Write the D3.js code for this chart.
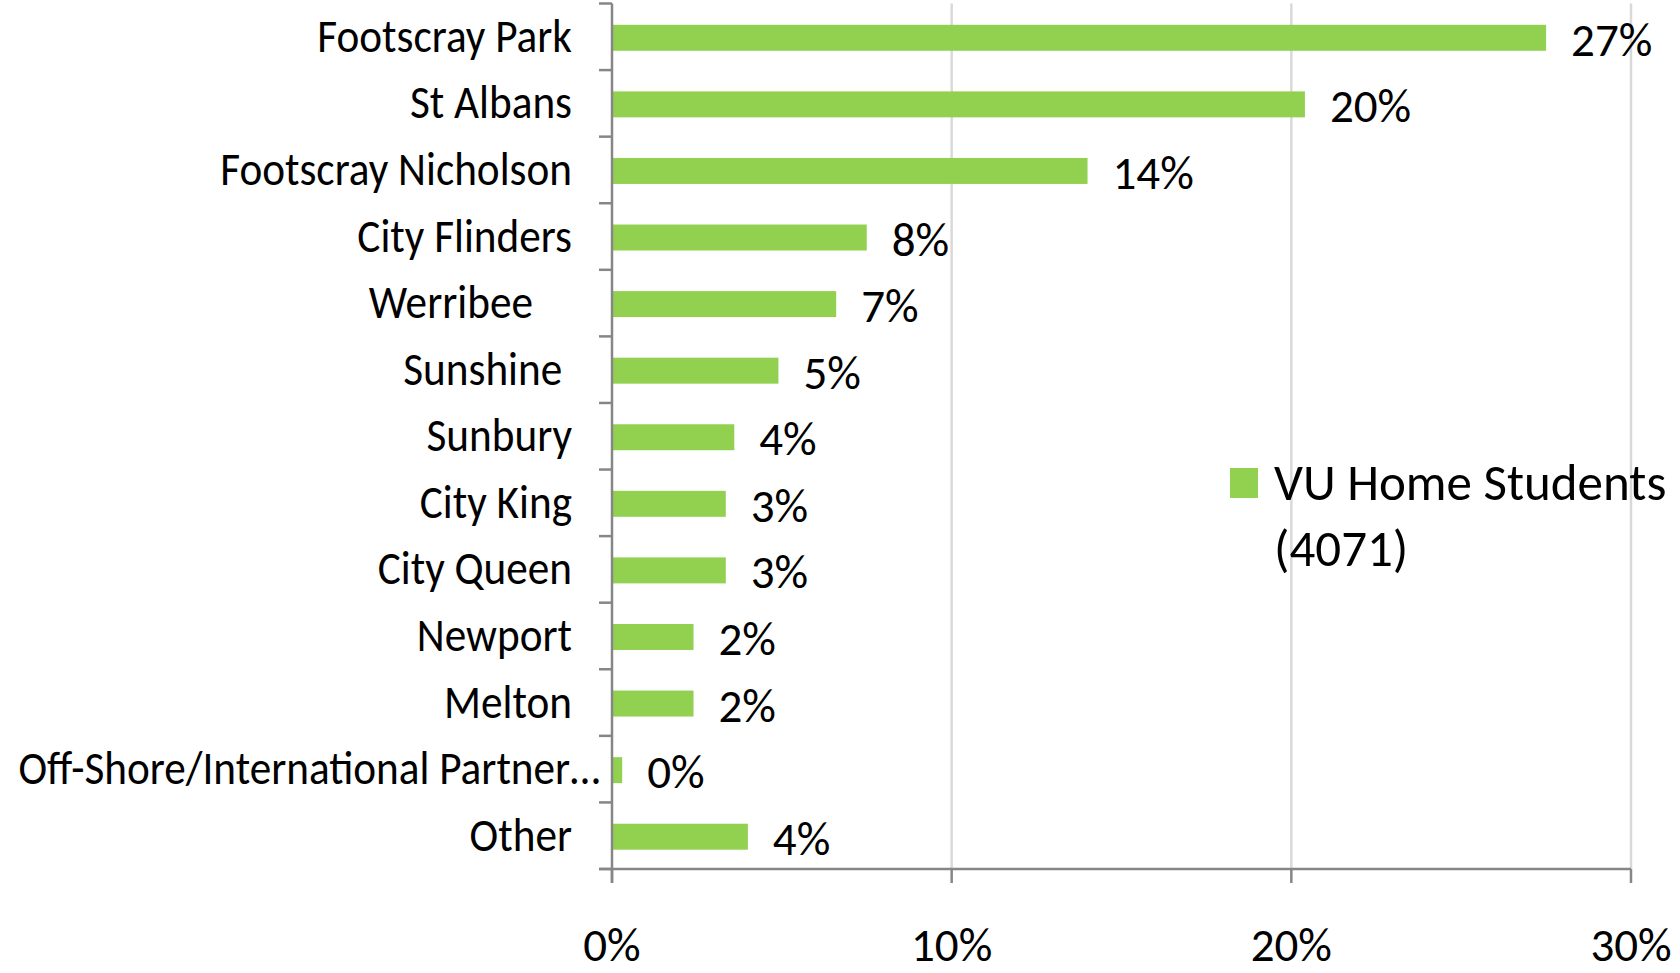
<!DOCTYPE html>
<html>
<head>
<meta charset="utf-8">
<script src="https://cdn.jsdelivr.net/npm/d3@7"></script>
<style>
  body { margin: 0; background: #fff; }
  text { font-family: Carlito, Calibri, Lato, "Open Sans", sans-serif; fill: #000; white-space: pre; }
</style>
</head>
<body>
<script>
var categories = ["Footscray Park","St Albans","Footscray Nicholson","City Flinders","Werribee    ","Sunshine ",
                  "Sunbury","City King","City Queen","Newport","Melton","Off-Shore/International Partner\u2026","Other"];
var values = [27.5, 20.4, 14.0, 7.5, 6.6, 4.9, 3.6, 3.35, 3.35, 2.4, 2.4, 0.3, 4.0];
var valueLabels = ["27%","20%","14%","8%","7%","5%","4%","3%","3%","2%","2%","0%","4%"];
var xTicks = [0, 10, 20, 30];
var seriesName = ["VU Home Students", "(4071)"];

var W = 1680, H = 973;
var green = '#92D050', axisCol = '#868686', gridCol = '#D9D9D9';
var squeeze = 0.92;   // narrow the category names a little, like Calibri

var svg = d3.select('body').append('svg').attr('width', W).attr('height', H);

var x = d3.scaleLinear().domain([0, 30]).range([612, 1631]);
var y = d3.scaleBand()
          .domain(categories)
          .range([3.5, 869])
          .paddingInner(0.61)
          .paddingOuter(0.305);
var step = y.step();
var top0 = y.range()[0], bottom0 = y.range()[1];

// gridlines
svg.selectAll('line.grid')
  .data(xTicks.slice(1))
  .enter().append('line')
  .attr('class', 'grid')
  .attr('x1', function(d){return x(d);})
  .attr('x2', function(d){return x(d);})
  .attr('y1', top0)
  .attr('y2', bottom0)
  .attr('stroke', gridCol)
  .attr('stroke-width', 2.5);

// bars
svg.selectAll('rect.bar')
  .data(values)
  .enter().append('rect')
  .attr('class', 'bar')
  .attr('x', x(0))
  .attr('y', function(d,i){return y(categories[i]) + 1;})
  .attr('width', function(d){return x(d) - x(0);})
  .attr('height', y.bandwidth())
  .attr('fill', green);

// value labels
svg.selectAll('text.val')
  .data(values)
  .enter().append('text')
  .attr('class', 'val')
  .attr('x', function(d){return x(d) + 25;})
  .attr('y', function(d,i){return y(categories[i]) + y.bandwidth()/2 + 19;})
  .attr('font-size', 47)
  .text(function(d,i){return valueLabels[i];});

// category axis
svg.append('line')
  .attr('x1', x(0)).attr('x2', x(0))
  .attr('y1', top0).attr('y2', bottom0 + 14)
  .attr('stroke', axisCol).attr('stroke-width', 2.5);
svg.selectAll('line.ytick')
  .data(d3.range(categories.length + 1))
  .enter().append('line')
  .attr('class', 'ytick')
  .attr('x1', x(0) - 13).attr('x2', x(0))
  .attr('y1', function(i){return top0 + i*step;})
  .attr('y2', function(i){return top0 + i*step;})
  .attr('stroke', axisCol).attr('stroke-width', 2.5);
svg.selectAll('text.cat')
  .data(categories)
  .enter().append('text')
  .attr('class', 'cat')
  .attr('transform', function(d,i){
    var tx = i === 11 ? x(0) - 12 : x(0) - 40;
    var ty = y(d) + y.bandwidth()/2 + 15;
    return 'translate(' + tx + ',' + ty + ') scale(' + squeeze + ',1)';
  })
  .attr('text-anchor', 'end')
  .attr('font-size', 47)
  .text(function(d){return d;});

// value axis
svg.append('line')
  .attr('x1', x(0) - 13).attr('x2', x(30))
  .attr('y1', bottom0).attr('y2', bottom0)
  .attr('stroke', axisCol).attr('stroke-width', 2.5);
svg.selectAll('line.xtick')
  .data(xTicks)
  .enter().append('line')
  .attr('class', 'xtick')
  .attr('x1', function(d){return x(d);})
  .attr('x2', function(d){return x(d);})
  .attr('y1', bottom0).attr('y2', bottom0 + 14)
  .attr('stroke', axisCol).attr('stroke-width', 2.5);
svg.selectAll('text.xlab')
  .data(xTicks)
  .enter().append('text')
  .attr('class', 'xlab')
  .attr('x', function(d){return x(d);})
  .attr('y', 961)
  .attr('text-anchor', 'middle')
  .attr('font-size', 47)
  .text(function(d){return d + '%';});

// legend
var lg = svg.append('g').attr('transform', 'translate(1230,468)');
lg.append('rect').attr('width', 28).attr('height', 30).attr('fill', green);
lg.selectAll('text')
  .data(seriesName)
  .enter().append('text')
  .attr('x', 44)
  .attr('y', function(d,i){return 32 + i*66;})
  .attr('font-size', 51)
  .text(function(d){return d;});
</script>
</body>
</html>
